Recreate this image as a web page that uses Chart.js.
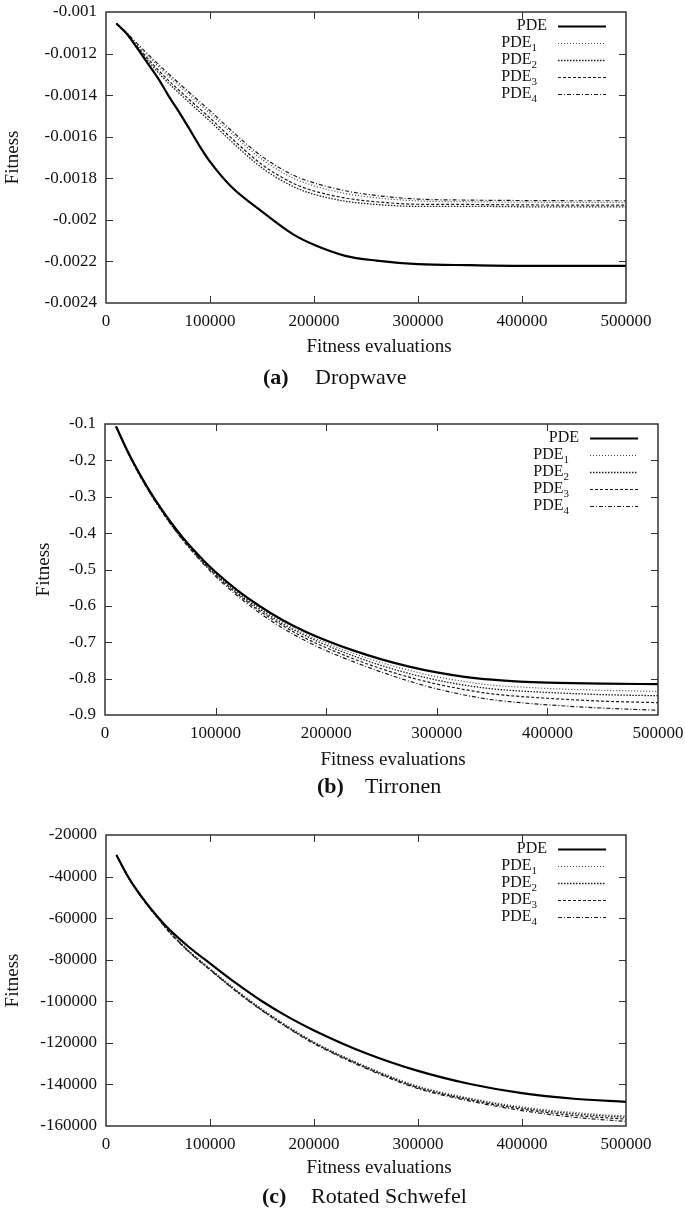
<!DOCTYPE html>
<html>
<head>
<meta charset="utf-8">
<script src="https://cdn.jsdelivr.net/npm/chart.js@4/dist/chart.umd.min.js"></script>
<style>
  html, body { margin: 0; padding: 0; background: #fff; }
  body { width: 685px; height: 1210px; position: relative; overflow: hidden; }
  canvas { position: absolute; left: 0; }
</style>
</head>
<body>
<canvas id="dropChart" width="685" height="410" style="top:0px"></canvas>
<canvas id="tirChart" width="685" height="410" style="top:410px"></canvas>
<canvas id="schChart" width="685" height="390" style="top:820px"></canvas>
<script>
// shared x axis
const xTicks = [0, 100000, 200000, 300000, 400000, 500000];
const xTickLabels = ['0', '100000', '200000', '300000', '400000', '500000'];
const legendNames = ['PDE', 'PDE', 'PDE', 'PDE', 'PDE'];
const legendSubs = ['', '1', '2', '3', '4'];

// (a) Dropwave
const dropX = [10000, 20000, 30000, 40000, 50000, 60000, 70000, 80000, 90000, 100000, 120000, 150000, 180000, 200000, 230000, 260000, 300000, 350000, 400000, 450000, 500000];
const dropPDE  = [-0.001055, -0.001105, -0.001174, -0.001246, -0.001318, -0.001402, -0.001479, -0.001561, -0.001645, -0.00172, -0.001838, -0.00196, -0.00207, -0.00212, -0.002173, -0.002196, -0.002213, -0.002218, -0.002221, -0.002221, -0.002221];
const dropPDE1 = [-0.001055, -0.001102, -0.001157, -0.00121, -0.00126, -0.001308, -0.001354, -0.001399, -0.001443, -0.001488, -0.001581, -0.001709, -0.001799, -0.001836, -0.001873, -0.001894, -0.001909, -0.001913, -0.001915, -0.001916, -0.001916];
const dropPDE2 = [-0.001055, -0.001108, -0.001172, -0.001232, -0.00129, -0.001342, -0.001389, -0.001435, -0.00148, -0.001525, -0.00162, -0.00175, -0.00184, -0.001877, -0.00191, -0.001926, -0.001935, -0.001935, -0.001937, -0.001938, -0.001938];
const dropPDE3 = [-0.001055, -0.001106, -0.001166, -0.001223, -0.001278, -0.001329, -0.001375, -0.001421, -0.001465, -0.00151, -0.001604, -0.001734, -0.001824, -0.001861, -0.001895, -0.001913, -0.001925, -0.001926, -0.001928, -0.001929, -0.001929];
const dropPDE4 = [-0.001055, -0.0011, -0.001152, -0.001202, -0.00125, -0.001297, -0.001342, -0.001387, -0.001431, -0.001475, -0.001568, -0.001695, -0.001785, -0.001822, -0.00186, -0.001883, -0.0019, -0.001905, -0.001907, -0.001908, -0.001908];
const dropYTicks = [-0.001, -0.0012, -0.0014, -0.0016, -0.0018, -0.002, -0.0022, -0.0024];
const dropYLabels = ['-0.001', '-0.0012', '-0.0014', '-0.0016', '-0.0018', '-0.002', '-0.0022', '-0.0024'];

// (b) Tirronen
const tirX = [10000, 20000, 30000, 40000, 50000, 60000, 70000, 80000, 90000, 100000, 120000, 140000, 160000, 180000, 200000, 225000, 250000, 275000, 300000, 325000, 350000, 375000, 400000, 450000, 500000];
const tirPDE  = [-0.107, -0.172, -0.230, -0.282, -0.329, -0.372, -0.411, -0.446, -0.478, -0.507, -0.558, -0.601, -0.638, -0.669, -0.695, -0.723, -0.747, -0.767, -0.783, -0.795, -0.803, -0.808, -0.811, -0.814, -0.815];
const tirPDE1 = [-0.107, -0.173, -0.232, -0.284, -0.331, -0.374, -0.414, -0.449, -0.481, -0.510, -0.562, -0.606, -0.643, -0.675, -0.702, -0.731, -0.756, -0.777, -0.795, -0.808, -0.818, -0.823, -0.827, -0.832, -0.835];
const tirPDE2 = [-0.107, -0.174, -0.233, -0.285, -0.332, -0.376, -0.415, -0.450, -0.483, -0.512, -0.565, -0.609, -0.648, -0.680, -0.708, -0.738, -0.764, -0.786, -0.804, -0.818, -0.828, -0.834, -0.838, -0.844, -0.847];
const tirPDE3 = [-0.107, -0.174, -0.233, -0.286, -0.333, -0.377, -0.417, -0.452, -0.485, -0.515, -0.568, -0.614, -0.653, -0.687, -0.715, -0.746, -0.773, -0.796, -0.815, -0.830, -0.842, -0.849, -0.854, -0.862, -0.866];
const tirPDE4 = [-0.107, -0.175, -0.234, -0.287, -0.334, -0.378, -0.418, -0.454, -0.488, -0.519, -0.573, -0.620, -0.660, -0.694, -0.723, -0.754, -0.782, -0.807, -0.828, -0.845, -0.858, -0.866, -0.872, -0.881, -0.887];
const tirYTicks = [-0.1, -0.2, -0.3, -0.4, -0.5, -0.6, -0.7, -0.8, -0.9];
const tirYLabels = ['-0.1', '-0.2', '-0.3', '-0.4', '-0.5', '-0.6', '-0.7', '-0.8', '-0.9'];

// (c) Rotated Schwefel
const schX = [10000, 20000, 30000, 40000, 50000, 60000, 80000, 100000, 125000, 150000, 175000, 200000, 250000, 300000, 350000, 400000, 450000, 500000];
const schPDE  = [-29600, -39000, -46800, -53500, -59500, -65000, -74000, -81800, -91300, -100000, -107500, -114000, -125000, -133500, -139800, -144200, -146900, -148400];
const schPDE1 = [-29600, -39100, -46900, -53700, -59800, -65700, -75700, -84200, -94400, -103700, -112000, -119500, -131300, -140800, -146600, -150800, -153500, -155200];
const schPDE2 = [-29600, -39200, -47000, -53800, -60000, -66000, -76000, -84500, -94700, -104000, -112300, -119800, -131600, -141200, -147000, -151300, -154100, -155800];
const schPDE3 = [-29600, -39200, -47000, -53900, -60100, -66100, -76200, -84700, -95000, -104300, -112600, -120100, -131900, -141600, -147500, -151900, -154900, -156700];
const schPDE4 = [-29600, -39300, -47100, -54000, -60200, -66300, -76400, -84900, -95200, -104500, -112900, -120400, -132300, -142000, -148000, -152600, -155800, -157800];
const schYTicks = [-20000, -40000, -60000, -80000, -100000, -120000, -140000, -160000];
const schYLabels = ['-20000', '-40000', '-60000', '-80000', '-100000', '-120000', '-140000', '-160000'];

const FONT = '"Liberation Serif", "Times New Roman", serif';

// line styles for PDE, PDE1..PDE4
const styles = [
    { color: '#000', width: 2.2, dash: [] },
    { color: '#444', width: 1.2, dash: [1, 2] },
    { color: '#1a1a1a', width: 1.3, dash: [1.5, 1.5] },
    { color: '#1a1a1a', width: 1.2, dash: [3, 2] },
    { color: '#1a1a1a', width: 1.2, dash: [4, 2, 1, 2] }
];

// frame, inward ticks, legend and captions
const decor = {
    id: 'decor',
    afterDatasetsDraw(chart, args, o) {
        const ctx = chart.ctx;
        const a = chart.chartArea;
        const xs = chart.scales.x, ys = chart.scales.y;
        ctx.save();

        // inward tick marks on all four sides
        ctx.strokeStyle = '#333';
        ctx.lineWidth = 1;
        ctx.beginPath();
        xs.ticks.forEach(t => {
            const px = Math.round(xs.getPixelForValue(t.value)) + 0.5;
            if (px < a.left + 2 || px > a.right - 2) return;
            ctx.moveTo(px, a.bottom); ctx.lineTo(px, a.bottom - 7);
            ctx.moveTo(px, a.top); ctx.lineTo(px, a.top + 7);
        });
        ys.ticks.forEach(t => {
            const py = Math.round(ys.getPixelForValue(t.value)) + 0.5;
            if (py < a.top + 2 || py > a.bottom - 2) return;
            ctx.moveTo(a.left, py); ctx.lineTo(a.left + 7, py);
            ctx.moveTo(a.right, py); ctx.lineTo(a.right - 7, py);
        });
        ctx.stroke();

        ctx.lineWidth = 1.5;
        ctx.strokeRect(a.left, a.top, a.right - a.left, a.bottom - a.top);

        // legend in top-right corner
        chart.data.datasets.forEach((ds, i) => {
            const y = a.top + 14 + i * 17;
            const sub = legendSubs[i];
            const textRight = a.right - 79 - (sub ? 10 : 0);
            ctx.fillStyle = '#111';
            ctx.textBaseline = 'middle';
            ctx.textAlign = 'right';
            if (sub) {
                ctx.font = '11px ' + FONT;
                ctx.fillText(sub, textRight, y + 5);
                const w = ctx.measureText(sub).width;
                ctx.font = '16px ' + FONT;
                ctx.fillText(legendNames[i], textRight - w, y);
            } else {
                ctx.font = '16px ' + FONT;
                ctx.fillText(legendNames[i], textRight, y);
            }
            ctx.strokeStyle = ds.borderColor;
            ctx.lineWidth = ds.borderWidth;
            ctx.setLineDash(ds.borderDash || []);
            ctx.beginPath();
            ctx.moveTo(a.right - 68, y + 0.5);
            ctx.lineTo(a.right - 20, y + 0.5);
            ctx.stroke();
            ctx.setLineDash([]);
        });

        // axis titles
        ctx.fillStyle = '#111';
        ctx.font = '19px ' + FONT;
        ctx.textAlign = 'center';
        ctx.textBaseline = 'middle';
        ctx.fillText('Fitness evaluations', o.xTitleX, o.xTitleY);
        ctx.save();
        ctx.translate(o.yTitleX, (a.top + a.bottom) / 2);
        ctx.rotate(-Math.PI / 2);
        ctx.fillText('Fitness', 0, 0);
        ctx.restore();

        // figure caption
        ctx.textAlign = 'left';
        ctx.font = 'bold 22px ' + FONT;
        ctx.fillText(o.tag, o.tagX, o.capY);
        ctx.font = '22px ' + FONT;
        ctx.fillText(o.name, o.nameX, o.capY);

        ctx.restore();
    }
};

function makeChart(id, box, xVals, series, yTicks, yLabels, caption) {
    const canvas = document.getElementById(id);
    const H = canvas.height, W = canvas.width;
    const datasets = series.map((ys, i) => ({
        label: 'PDE' + legendSubs[i],
        data: xVals.map((x, j) => ({ x: x, y: ys[j] })),
        borderColor: styles[i].color,
        borderWidth: styles[i].width,
        borderDash: styles[i].dash,
        pointRadius: 0,
        fill: false,
        cubicInterpolationMode: 'monotone'
    }));
    return new Chart(canvas.getContext('2d'), {
        type: 'line',
        data: { datasets: datasets },
        plugins: [decor],
        options: {
            responsive: false,
            animation: false,
            layout: { padding: { top: box.top, right: W - box.right, bottom: 0, left: 0 } },
            plugins: {
                legend: { display: false },
                tooltip: { enabled: false },
                decor: caption
            },
            scales: {
                x: {
                    type: 'linear',
                    min: 0,
                    max: 500000,
                    grid: { display: false, drawTicks: false },
                    border: { display: false },
                    afterBuildTicks: s => { s.ticks = xTicks.map(v => ({ value: v })); },
                    afterFit: s => { s.height = H - box.bottom; s.paddingLeft = 0; s.paddingRight = 0; },
                    ticks: {
                        padding: 8,
                        maxRotation: 0,
                        autoSkip: false,
                        color: '#111',
                        font: { family: FONT, size: 17 },
                        callback: (v, i) => xTickLabels[i]
                    }
                },
                y: {
                    type: 'linear',
                    min: yTicks[yTicks.length - 1],
                    max: yTicks[0],
                    grid: { display: false, drawTicks: false },
                    border: { display: false },
                    afterBuildTicks: s => { s.ticks = yTicks.map(v => ({ value: v })); },
                    afterFit: s => { s.width = box.left; s.paddingTop = 0; s.paddingBottom = 0; },
                    ticks: {
                        padding: 9,
                        autoSkip: false,
                        color: '#111',
                        font: { family: FONT, size: 17 },
                        callback: (v, i) => yLabels[i]
                    }
                }
            }
        }
    });
}

makeChart('dropChart', { left: 106, right: 626, top: 12, bottom: 303 }, dropX,
    [dropPDE, dropPDE1, dropPDE2, dropPDE3, dropPDE4], dropYTicks, dropYLabels,
    { xTitleX: 379, xTitleY: 347, yTitleX: 13, tag: '(a)', tagX: 263, name: 'Dropwave', nameX: 315, capY: 378 });

makeChart('tirChart', { left: 105, right: 658, top: 14, bottom: 305 }, tirX,
    [tirPDE, tirPDE1, tirPDE2, tirPDE3, tirPDE4], tirYTicks, tirYLabels,
    { xTitleX: 393, xTitleY: 350, yTitleX: 44, tag: '(b)', tagX: 317, name: 'Tirronen', nameX: 365, capY: 377 });

makeChart('schChart', { left: 106, right: 626, top: 15, bottom: 306 }, schX,
    [schPDE, schPDE1, schPDE2, schPDE3, schPDE4], schYTicks, schYLabels,
    { xTitleX: 379, xTitleY: 348, yTitleX: 13, tag: '(c)', tagX: 262, name: 'Rotated Schwefel', nameX: 311, capY: 377 });
</script>
</body>
</html>
